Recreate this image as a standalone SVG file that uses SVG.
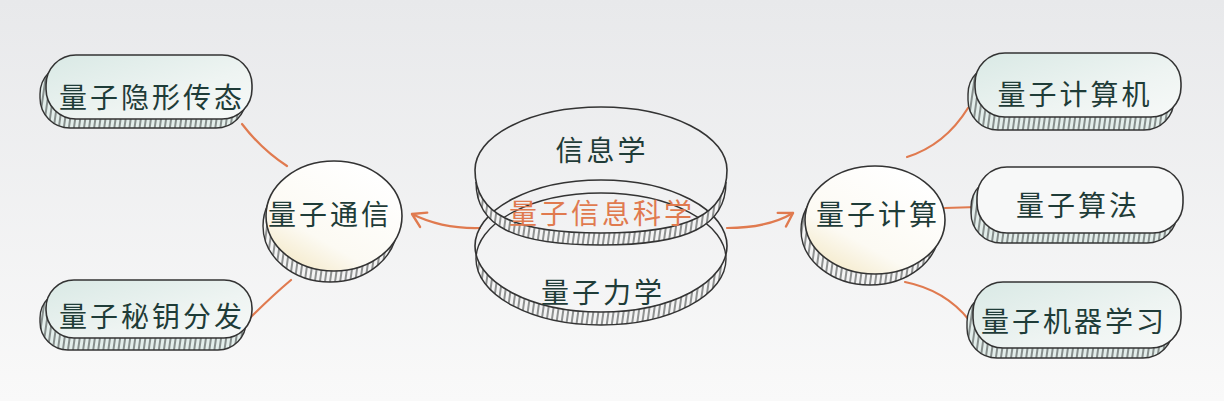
<svg xmlns="http://www.w3.org/2000/svg" width="1224" height="401" viewBox="0 0 1224 401">
<defs>
<linearGradient id="bg" x1="0" y1="0" x2="0" y2="1">
<stop offset="0" stop-color="#e8e9eb"/>
<stop offset="1" stop-color="#f9f9f9"/>
</linearGradient>
<linearGradient id="pillFace" x1="0" y1="0" x2="1" y2="1">
<stop offset="0" stop-color="#d9e9e5"/>
<stop offset="0.6" stop-color="#eef4f2"/>
<stop offset="1" stop-color="#f7f9f8"/>
</linearGradient>
<linearGradient id="coinFace" x1="0.8" y1="0.1" x2="0.2" y2="0.95">
<stop offset="0" stop-color="#ffffff"/>
<stop offset="0.7" stop-color="#fcfaf3"/>
<stop offset="1" stop-color="#f5ebcd"/>
</linearGradient>
<pattern id="hatch" patternUnits="userSpaceOnUse" width="5" height="20" patternTransform="rotate(8)">
<rect width="5" height="20" fill="#e3eeeb"/>
<line x1="1" y1="0" x2="1" y2="20" stroke="#3a3f3e" stroke-width="1.1"/>
</pattern>
<pattern id="hatchW" patternUnits="userSpaceOnUse" width="5" height="20" patternTransform="rotate(8)">
<rect width="5" height="20" fill="#f4f4f4"/>
<line x1="1" y1="0" x2="1" y2="20" stroke="#3a3f3e" stroke-width="1.1"/>
</pattern>
<mask id="mTop" maskUnits="userSpaceOnUse" x="0" y="0" width="1224" height="401">
<path d="M476 182 A125 64 0 0 1 726 182 C726 226 688 245 601 245 C514 245 476 226 476 182 Z" fill="#fff"/>
<path d="M475 170 A126 63 0 0 1 727 170 C727 214 689 233 601 233 C513 233 475 214 475 170 Z" fill="#000"/>
</mask>
<mask id="mBot" maskUnits="userSpaceOnUse" x="0" y="0" width="1224" height="401">
<ellipse cx="601" cy="259" rx="125" ry="66" fill="#fff"/>
<ellipse cx="601" cy="246" rx="126" ry="66" fill="#000"/>
</mask>
<marker id="arrow" viewBox="0 0 20 20" refX="17" refY="10" markerWidth="20" markerHeight="20" markerUnits="userSpaceOnUse" orient="auto">
<path d="M4 2 L17 10 L4 18" fill="none" stroke="#e07a4f" stroke-width="2.4" stroke-linecap="round" stroke-linejoin="round"/>
</marker>
<style>
.base{fill:url(#hatch);stroke:#333;stroke-width:1.4}
.face{fill:url(#pillFace);stroke:#333;stroke-width:1.6}
.coinbase{fill:url(#hatchW);stroke:#333;stroke-width:1.4}
.coin{fill:url(#coinFace);stroke:#333;stroke-width:1.6}
.t{font-family:"Noto Sans CJK SC","Noto Sans",sans-serif;font-size:28px;fill:#1f3c38;text-anchor:middle;dominant-baseline:central;letter-spacing:3px}
.o{fill:#e07a4f}
.conn{fill:none;stroke:#e07a4f;stroke-width:2.2;stroke-linecap:round}
</style>
</defs>
<rect width="1224" height="401" fill="url(#bg)"/>

<g id="connectors">
<path class="conn" d="M242 124 Q262 150 287 166"/>
<path class="conn" d="M250 318 Q272 296 291 280"/>
<path class="conn" d="M907 157 Q945 145 968 108"/>
<path class="conn" d="M945 208 L977 207"/>
<path class="conn" d="M905 282 Q945 290 969 320"/>
<path class="conn" d="M480 228 Q442 229 412 214" marker-end="url(#arrow)"/>
<path class="conn" d="M727 228 Q768 228 793 213" marker-end="url(#arrow)"/>
</g>

<g id="n-teleport">
<rect class="base" x="40" y="64" width="206" height="64" rx="30"/>
<rect class="face" x="46" y="55" width="206" height="64" rx="30"/>
<text class="t" x="152" y="96">量子隐形传态</text>
</g>
<g id="n-qkd">
<rect class="base" x="40" y="290" width="206" height="60" rx="28"/>
<rect class="face" x="46" y="280" width="206" height="58" rx="28"/>
<text class="t" x="152" y="315">量子秘钥分发</text>
</g>
<g id="n-comm">
<ellipse class="coinbase" cx="330" cy="226" rx="67" ry="56"/>
<ellipse class="coin" cx="334" cy="216" rx="68" ry="55"/>
<text class="t" x="330" y="213">量子通信</text>
</g>
<g id="n-center">
<ellipse cx="601" cy="259" rx="125" ry="66" fill="url(#hatchW)" mask="url(#mBot)" stroke="none"/>
<ellipse cx="601" cy="259" rx="125" ry="66" fill="none" stroke="#333" stroke-width="1.4"/>
<ellipse cx="601" cy="246" rx="126" ry="66" fill="none" stroke="#333" stroke-width="1.6"/>
<rect x="470" y="100" width="262" height="150" fill="url(#hatchW)" mask="url(#mTop)"/>
<path d="M476 182 C476 226 514 245 601 245 C688 245 726 226 726 182" fill="none" stroke="#333" stroke-width="1.4"/>
<path d="M475 170 A126 63 0 0 1 727 170 C727 214 689 233 601 233 C513 233 475 214 475 170 Z" fill="none" stroke="#333" stroke-width="1.6"/>
<text class="t" x="602" y="149">信息学</text>
<text class="t o" x="602" y="212">量子信息科学</text>
<text class="t" x="603" y="291">量子力学</text>
</g>
<g id="n-compute">
<ellipse class="coinbase" cx="870" cy="230" rx="69" ry="55"/>
<ellipse class="coin" cx="875" cy="220" rx="70" ry="54"/>
<text class="t" x="878" y="213">量子计算</text>
</g>
<g id="n-computer">
<rect class="base" x="968" y="64" width="206" height="66" rx="30"/>
<rect class="face" x="975" y="53" width="206" height="64" rx="30"/>
<text class="t" x="1075" y="93">量子计算机</text>
</g>
<g id="n-algo">
<rect class="base" x="971" y="177" width="206" height="66" rx="30"/>
<rect class="face" x="977" y="167" width="206" height="66" rx="30" style="fill:#f7f8f8"/>
<text class="t" x="1078" y="204">量子算法</text>
</g>
<g id="n-ml">
<rect class="base" x="967" y="292" width="206" height="66" rx="30"/>
<rect class="face" x="973" y="282" width="208" height="66" rx="30"/>
<text class="t" x="1074" y="320">量子机器学习</text>
</g>
</svg>
